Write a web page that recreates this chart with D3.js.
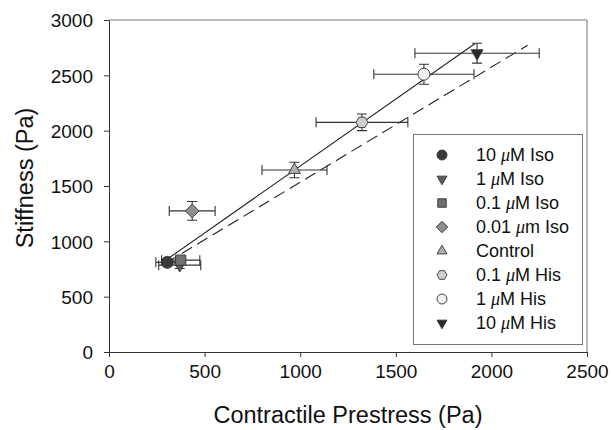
<!DOCTYPE html>
<html>
<head>
<meta charset="utf-8">
<script src="https://cdn.jsdelivr.net/npm/d3@7"></script>
<style>
  body { margin: 0; background: #fff; }
  text { font-family: "Liberation Sans", Arial, sans-serif; fill: #111; }
</style>
</head>
<body>
<div id="chart"></div>
<script>
// values
var groups = ["10 μM Iso", "1 μM Iso", "0.1 μM Iso", "0.01 μm Iso", "Control", "0.1 μM His", "1 μM His", "10 μM His"];
var prestress = [305, 370, 375, 435, 970, 1323, 1647, 1925];
var prestressErr = [60, 110, 100, 120, 170, 240, 262, 325];
var stiffness = [810, 785, 830, 1275, 1645, 2075, 2510, 2700];
var stiffnessErr = [25, 30, 30, 85, 70, 75, 90, 90];
var shapes = ["circle", "triangleDown", "square", "diamond", "triangle", "hexagon", "circle", "triangleDown"];
var fills = ["#3a3a3a", "#5c5c5c", "#707070", "#8e8e8e", "#adadad", "#cfcfcf", "#efefef", "#2a2a2a"];
var xTicks = [0, 500, 1000, 1500, 2000, 2500];
var yTicks = [0, 500, 1000, 1500, 2000, 2500, 3000];
// fitted lines: [x0, y0, x1, y1]
var solidFit = [290, 821, 1915, 2787];
var dashedFit = [300, 806, 2190, 2772];

var W = 611, H = 430;
var svg = d3.select("#chart").append("svg").attr("width", W).attr("height", H);

var x = d3.scaleLinear().domain([0, 2500]).range([109, 587]);
var y = d3.scaleLinear().domain([0, 3000]).range([352, 20]);

// marker path for a shape of "radius" r centred at 0,0
function shapePath(type, r) {
    var p = d3.path(), i, a;
    if (type == "circle") {
        p.arc(0, 0, r, 0, 2 * Math.PI);
    } else if (type == "square") {
        var s = r * 0.85;
        p.rect(-s, -s, 2 * s, 2 * s);
    } else if (type == "diamond") {
        var d = r * 1.15;
        p.moveTo(0, -d); p.lineTo(d, 0); p.lineTo(0, d); p.lineTo(-d, 0); p.closePath();
    } else if (type == "triangle" || type == "triangleDown") {
        var sg = type == "triangle" ? -1 : 1;
        var t = r * 1.15;
        p.moveTo(0, sg * t);
        p.lineTo(t * 0.866, -sg * t * 0.5);
        p.lineTo(-t * 0.866, -sg * t * 0.5);
        p.closePath();
    } else if (type == "hexagon") {
        for (i = 0; i < 6; i++) {
            a = Math.PI / 6 + i * Math.PI / 3;
            if (i == 0) p.moveTo(r * Math.sin(a), r * Math.cos(a));
            else p.lineTo(r * Math.sin(a), r * Math.cos(a));
        }
        p.closePath();
    }
    return p.toString();
}

// label with italic mu
function writeLabel(sel, label) {
    var parts = label.split("μ");
    sel.append("tspan").text(parts[0]);
    if (parts.length > 1) {
        sel.append("tspan").text("μ").style("font-family", "'Liberation Serif', serif").style("font-style", "italic");
        sel.append("tspan").text(parts[1]);
    }
}

// frame (top and right)
svg.append("path")
    .attr("d", "M" + x(0) + "," + y(3000) + "H" + x(2500) + "V" + y(0))
    .attr("fill", "none").attr("stroke", "#777").attr("stroke-width", 1);

// axes
var fmt = d3.format("d");
var xAxis = svg.append("g")
    .attr("transform", "translate(0," + y(0) + ")")
    .call(d3.axisBottom(x).tickValues(xTicks).tickFormat(fmt).tickSize(5).tickSizeOuter(0).tickPadding(5));
var yAxis = svg.append("g")
    .attr("transform", "translate(" + x(0) + ",0)")
    .call(d3.axisLeft(y).tickValues(yTicks).tickFormat(fmt).tickSize(5).tickSizeOuter(0).tickPadding(11));
[xAxis, yAxis].forEach(function (g) {
    g.select(".domain").attr("stroke", "#333");
    g.selectAll(".tick line").attr("stroke", "#333");
    g.selectAll(".tick text").style("font-size", "19px").attr("fill", "#111")
        .style("font-family", "'Liberation Sans', Arial, sans-serif");
});
xAxis.selectAll(".tick text").attr("dy", "0.85em");
yAxis.selectAll(".tick text").attr("dy", "0.36em");

// axis titles
svg.append("text")
    .attr("x", (x(0) + x(2500)) / 2 + 0).attr("y", 423)
    .attr("text-anchor", "middle").style("font-size", "23.5px")
    .text("Contractile Prestress (Pa)");
svg.append("text")
    .attr("transform", "translate(33," + 178 + ") rotate(-90)")
    .attr("text-anchor", "middle").style("font-size", "23.5px")
    .text("Stiffness (Pa)");

// fit lines
svg.append("line")
    .attr("x1", x(solidFit[0])).attr("y1", y(solidFit[1]))
    .attr("x2", x(solidFit[2])).attr("y2", y(solidFit[3]))
    .attr("stroke", "#222").attr("stroke-width", 1.1);
svg.append("line")
    .attr("x1", x(dashedFit[0])).attr("y1", y(dashedFit[1]))
    .attr("x2", x(dashedFit[2])).attr("y2", y(dashedFit[3]))
    .attr("stroke", "#222").attr("stroke-width", 1.1).attr("stroke-dasharray", "12,6");

var pts = groups.map(function (g, i) {
    return { name: g, x: prestress[i], ex: prestressErr[i], y: stiffness[i], ey: stiffnessErr[i], shape: shapes[i], fill: fills[i] };
});

// error bars
var cap = 5;
var _gerr = svg.append("g").attr("stroke", "#333").attr("stroke-width", 1.1).attr("fill", "none");
_gerr.selectAll("path")
    .data(pts)
    .enter()
    .append("path")
    .attr("d", function (d) {
        var cx = x(d.x), cy = y(d.y);
        var xl = x(d.x - d.ex), xr = x(d.x + d.ex);
        var yt = y(d.y + d.ey), yb = y(d.y - d.ey);
        return "M" + xl + "," + cy + "H" + xr +
            "M" + xl + "," + (cy - cap) + "V" + (cy + cap) +
            "M" + xr + "," + (cy - cap) + "V" + (cy + cap) +
            "M" + cx + "," + yt + "V" + yb +
            "M" + (cx - cap) + "," + yt + "H" + (cx + cap) +
            "M" + (cx - cap) + "," + yb + "H" + (cx + cap);
    });

// markers
svg.append("g").selectAll("path")
    .data(pts)
    .enter()
    .append("path")
    .attr("transform", function (d) { return "translate(" + x(d.x) + "," + y(d.y) + ")"; })
    .attr("d", function (d) { return shapePath(d.shape, 6); })
    .attr("fill", function (d) { return d.fill; })
    .attr("stroke", "#333").attr("stroke-width", 0.9);

// legend
var lg = svg.append("g");
lg.append("rect")
    .attr("x", 413.5).attr("y", 134.5).attr("width", 169).attr("height", 210)
    .attr("fill", "#fff").attr("stroke", "#777").attr("stroke-width", 1);
var rows = lg.selectAll("g.row")
    .data(pts)
    .enter()
    .append("g")
    .attr("class", "row")
    .attr("transform", function (d, i) { return "translate(0," + (155 + i * 24) + ")"; });
rows.append("path")
    .attr("transform", "translate(442,0)")
    .attr("d", function (d) { return shapePath(d.shape, 5); })
    .attr("fill", function (d) { return d.fill; })
    .attr("stroke", "#333").attr("stroke-width", 0.9);
rows.append("text")
    .attr("x", 476).attr("dy", "0.36em")
    .style("font-size", "18px")
    .each(function (d) { writeLabel(d3.select(this), d.name); });
</script>
</body>
</html>
